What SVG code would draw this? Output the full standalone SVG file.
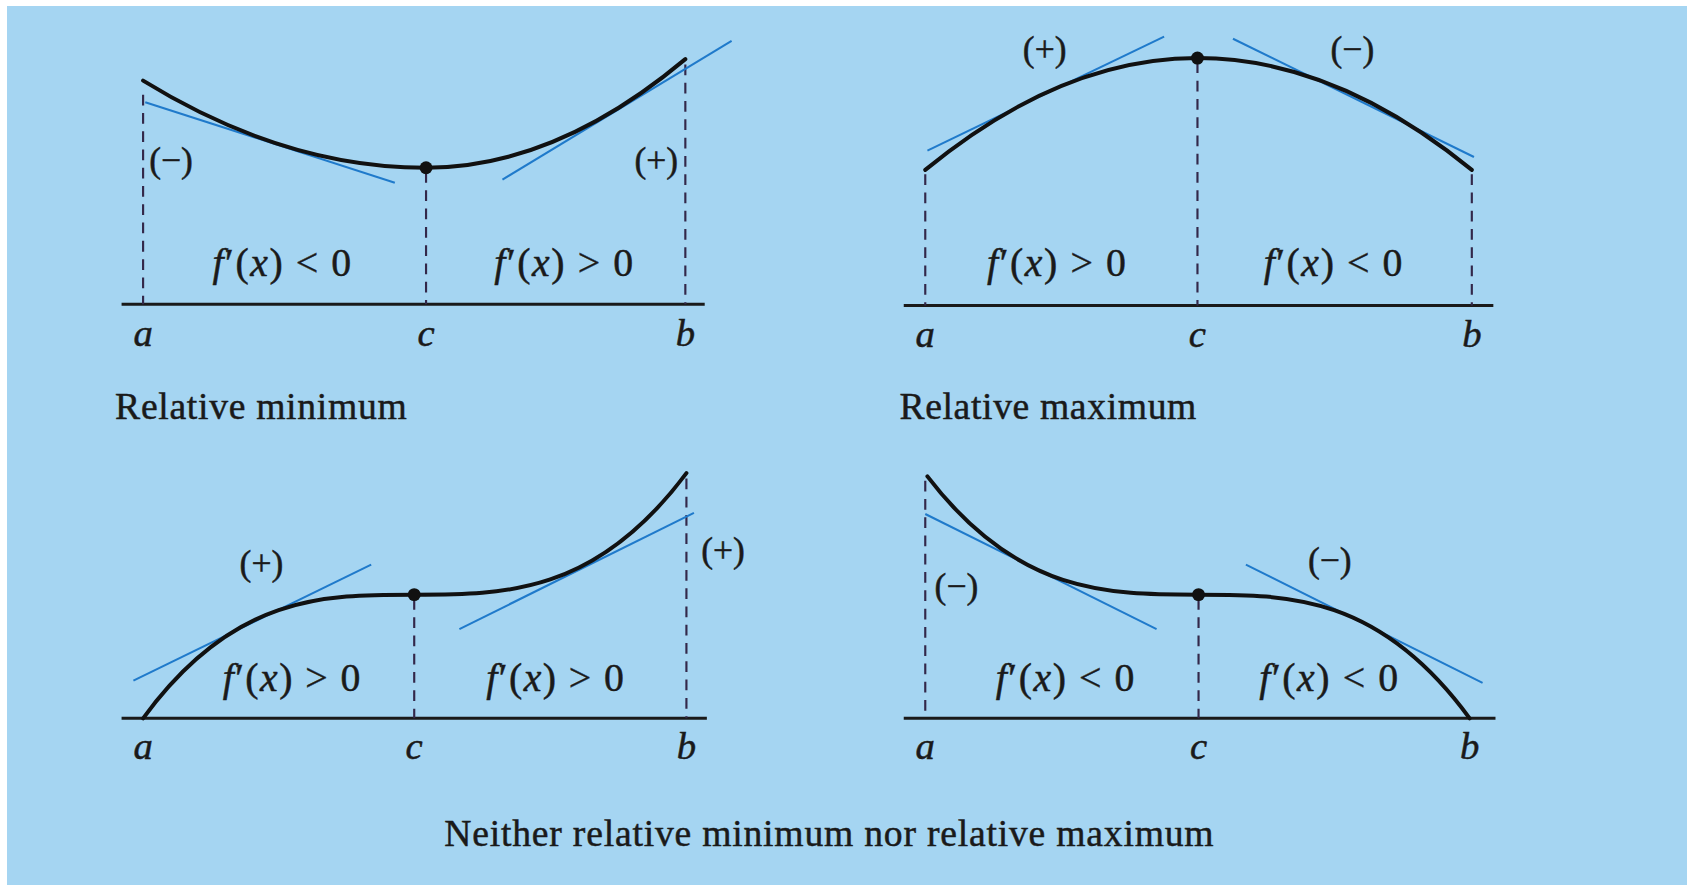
<svg xmlns="http://www.w3.org/2000/svg" width="1687" height="885" viewBox="0 0 1687 885">
<defs>
<style>
.curve{fill:none;stroke:#111;stroke-width:3.7;stroke-linecap:round}
.tan{fill:none;stroke:#1f7acb;stroke-width:1.9}
.axis{fill:none;stroke:#1a1a1a;stroke-width:2.8}
.dash{fill:none;stroke:#33284a;stroke-width:2;stroke-dasharray:10 7}
.dot{fill:#111}
text{font-family:"Liberation Serif","Times New Roman",serif;fill:#1a1a1a;stroke:#1a1a1a;stroke-width:0.45}
.lbl{font-size:36px;font-style:italic;text-anchor:middle}
.fx{font-size:37px;text-anchor:middle}
.sg{font-size:33px;text-anchor:middle}
.cap{font-size:35px}
</style>
</defs>
<rect x="0" y="0" width="1687" height="885" fill="#ffffff"/>
<rect x="7" y="6" width="1680" height="879" fill="#a5d5f2"/>
<g transform="scale(1.07589 1.07533)">
<g id="panel-min">
<line class="axis" x1="113" y1="283" x2="655" y2="283"/>
<line class="dash" x1="133" y1="88" x2="133" y2="283"/>
<line class="dash" x1="396" y1="160" x2="396" y2="283"/>
<line class="dash" x1="637" y1="60" x2="637" y2="283"/>
<line class="tan" x1="135" y1="95" x2="367" y2="170"/>
<line class="tan" x1="467" y1="167" x2="680" y2="38"/>
<path class="curve" d="M133,75 Q264.5,156 396,156 Q516.5,156 637,55"/>
<circle class="dot" cx="396" cy="156" r="6"/>
<text class="sg" x="159" y="160">(−)</text>
<text class="sg" x="610" y="160">(+)</text>
<text class="fx" x="262" y="257" textLength="129"><tspan font-style="italic">f</tspan>′(<tspan font-style="italic">x</tspan>) &lt; 0</text>
<text class="fx" x="524" y="257" textLength="129"><tspan font-style="italic">f</tspan>′(<tspan font-style="italic">x</tspan>) &gt; 0</text>
<text class="lbl" x="133" y="322">a</text>
<text class="lbl" x="396" y="322">c</text>
<text class="lbl" x="637" y="322">b</text>
<text class="cap" x="107" y="390" textLength="271">Relative minimum</text>
</g>
<g id="panel-max">
<line class="axis" x1="840" y1="284" x2="1388" y2="284"/>
<line class="dash" x1="860" y1="162" x2="860" y2="284"/>
<line class="dash" x1="1113" y1="58" x2="1113" y2="284"/>
<line class="dash" x1="1368" y1="162" x2="1368" y2="284"/>
<line class="tan" x1="862" y1="140" x2="1082" y2="34"/>
<line class="tan" x1="1146" y1="36" x2="1370" y2="146"/>
<path class="curve" d="M860,158 Q986.5,54 1113,54 Q1240.5,54 1368,158"/>
<circle class="dot" cx="1113" cy="54" r="6"/>
<text class="sg" x="971" y="57">(+)</text>
<text class="sg" x="1257" y="57">(−)</text>
<text class="fx" x="982" y="257" textLength="129"><tspan font-style="italic">f</tspan>′(<tspan font-style="italic">x</tspan>) &gt; 0</text>
<text class="fx" x="1239" y="257" textLength="129"><tspan font-style="italic">f</tspan>′(<tspan font-style="italic">x</tspan>) &lt; 0</text>
<text class="lbl" x="860" y="323">a</text>
<text class="lbl" x="1113" y="323">c</text>
<text class="lbl" x="1368" y="323">b</text>
<text class="cap" x="836" y="390" textLength="276">Relative maximum</text>
</g>
<g id="panel-inc">
<line class="axis" x1="113" y1="668" x2="657" y2="668"/>
<line class="dash" x1="385" y1="557" x2="385" y2="668"/>
<line class="dash" x1="638" y1="445" x2="638" y2="668"/>
<line class="tan" x1="124" y1="633" x2="345" y2="525"/>
<line class="tan" x1="427" y1="585" x2="645" y2="477"/>
<path class="curve" d="M133,668 C217,553 301,553 385,553 C469.3,553 553.7,553 638,440"/>
<circle class="dot" cx="385" cy="553" r="6"/>
<text class="sg" x="243" y="535">(+)</text>
<text class="sg" x="672" y="523">(+)</text>
<text class="fx" x="271" y="643" textLength="128"><tspan font-style="italic">f</tspan>′(<tspan font-style="italic">x</tspan>) &gt; 0</text>
<text class="fx" x="516" y="643" textLength="128"><tspan font-style="italic">f</tspan>′(<tspan font-style="italic">x</tspan>) &gt; 0</text>
<text class="lbl" x="133" y="706">a</text>
<text class="lbl" x="385" y="706">c</text>
<text class="lbl" x="638" y="706">b</text>
</g>
<g id="panel-dec">
<line class="axis" x1="840" y1="668" x2="1390" y2="668"/>
<line class="dash" x1="860" y1="447" x2="860" y2="668"/>
<line class="dash" x1="1114" y1="557" x2="1114" y2="668"/>
<line class="tan" x1="860" y1="478" x2="1075" y2="585"/>
<line class="tan" x1="1158" y1="525" x2="1378" y2="635"/>
<path class="curve" d="M862,443 C946,553 1030,553 1114,553 C1198,553 1282,553 1366,668"/>
<circle class="dot" cx="1114" cy="553" r="6"/>
<text class="sg" x="889" y="556">(−)</text>
<text class="sg" x="1236" y="532">(−)</text>
<text class="fx" x="990" y="643" textLength="129"><tspan font-style="italic">f</tspan>′(<tspan font-style="italic">x</tspan>) &lt; 0</text>
<text class="fx" x="1235" y="643" textLength="129"><tspan font-style="italic">f</tspan>′(<tspan font-style="italic">x</tspan>) &lt; 0</text>
<text class="lbl" x="860" y="706">a</text>
<text class="lbl" x="1114" y="706">c</text>
<text class="lbl" x="1366" y="706">b</text>
</g>
<text id="caption-neither" class="cap" x="413" y="787" textLength="715">Neither relative minimum nor relative maximum</text>
</g>
</svg>
